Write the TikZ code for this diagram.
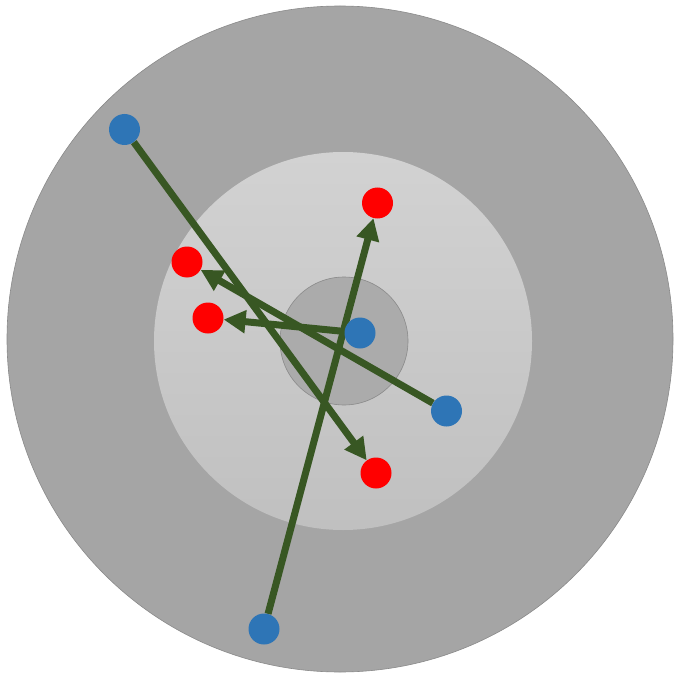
\documentclass[tikz,border=0pt]{standalone}
\usetikzlibrary{arrows.meta}
\pgfdeclarelayer{back}
\pgfdeclarelayer{mid}
\pgfsetlayers{back,mid,main}
\definecolor{outergray}{HTML}{A5A5A5}
\definecolor{midtop}{HTML}{D2D2D2}
\definecolor{midbot}{HTML}{C0C0C0}
\definecolor{innergray}{HTML}{ABABAB}
\definecolor{rimgray}{HTML}{8A8A8A}
\definecolor{arrowgreen}{HTML}{385723}
\definecolor{dotblue}{HTML}{2E75B6}
\definecolor{dotred}{HTML}{FF0000}
\tikzset{
  bluedot/.style={circle, fill=dotblue, minimum size=31pt, inner sep=0pt},
  reddot/.style={circle, fill=dotred, minimum size=31pt, inner sep=0pt},
  move/.style={draw=arrowgreen, line width=7pt, -{Triangle[length=22pt,width=22pt]}},
}
\begin{document}
\begin{tikzpicture}[x=1pt,y=-1pt]
\useasboundingbox (0,0) rectangle (673,676);
\node[bluedot] (b1) at (124.5,129.5) {};
\node[bluedot] (b2) at (360,333) {};
\node[bluedot] (b3) at (446.5,411) {};
\node[bluedot] (b4) at (264,629) {};
\node[reddot] (r1) at (377.5,203) {};
\node[reddot] (r2) at (187,262) {};
\node[reddot] (r3) at (208,318) {};
\node[reddot] (r4) at (376,473) {};
\begin{pgfonlayer}{back}
\filldraw[fill=outergray, draw=rimgray, line width=0.6pt] (340,339) circle[radius=333];
\shade[top color=midtop, bottom color=midbot] (343,341) circle[radius=189];
\filldraw[fill=innergray, draw=rimgray, line width=0.6pt] (344,341) circle[radius=64];
\end{pgfonlayer}
\begin{pgfonlayer}{mid}
\draw[move] (b1) -- (r4);
\draw[move] (b4) -- (r1);
\draw[move] (b3) -- (r2);
\draw[move] (b2) -- (r3);
\end{pgfonlayer}
\end{tikzpicture}
\end{document}
